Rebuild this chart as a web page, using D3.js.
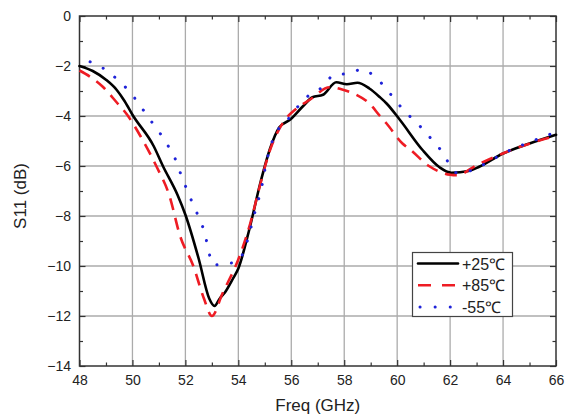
<!DOCTYPE html>
<html>
<head>
<meta charset="utf-8">
<style>
  body { margin: 0; background: #fff; }
  svg text { font-family: "Liberation Sans", Arial, sans-serif; fill: #222; }
</style>
</head>
<body>
<svg id="chart" width="588" height="418"></svg>
<script src="https://d3js.org/d3.v7.min.js"></script>
<script>

// +25 C (solid black)
var freq25 = [48.0, 48.5, 49.0, 49.4, 49.7, 50.0, 50.8, 51.15, 51.7, 52.0, 52.5, 52.9, 53.1, 53.3, 53.5, 53.8, 54.0, 54.4, 54.85, 55.2, 55.55, 55.95, 56.45, 56.8, 57.2, 57.7, 58.1, 58.5, 58.95, 59.35, 59.6, 60.1, 60.95, 61.6, 62.05, 62.7, 63.1, 64.0, 65.0, 66.0];
var s25    = [-2.0, -2.2, -2.55, -2.95, -3.4, -3.95, -5.2, -6.0, -7.15, -7.95, -9.7, -11.3, -11.6, -11.3, -11.05, -10.5, -10.1, -8.6, -6.6, -5.3, -4.45, -4.15, -3.6, -3.25, -3.15, -2.65, -2.73, -2.67, -2.9, -3.25, -3.5, -4.15, -5.35, -6.05, -6.27, -6.2, -6.03, -5.5, -5.1, -4.75];

// +85 C (red dashed)
var freq85 = [48.0, 48.4, 48.9, 49.4, 49.8, 50.3, 50.9, 51.4, 51.8, 52.3, 52.7, 53.0, 53.4, 54.05, 54.45, 54.8, 55.2, 55.7, 56.2, 56.7, 57.45, 57.95, 58.45, 58.95, 59.35, 59.6, 60.2, 60.5, 61.2, 62.0, 62.25, 63.0, 64.1, 65.4, 66.0];
var s85    = [-2.18, -2.43, -2.85, -3.45, -3.95, -4.8, -6.0, -7.2, -8.8, -10.0, -11.3, -12.0, -11.1, -9.6, -8.3, -6.85, -5.35, -4.25, -3.7, -3.35, -2.85, -2.95, -3.15, -3.5, -4.0, -4.3, -5.1, -5.35, -6.0, -6.35, -6.37, -5.97, -5.45, -4.97, -4.8];

// -55 C (blue dotted)
var freq55 = [48.4, 48.95, 49.45, 49.95, 50.2, 50.6, 51.35, 51.65, 51.85, 52.08, 52.3, 52.55, 52.75, 52.87, 53.05, 53.55, 53.9, 54.25, 54.45, 54.7, 54.85, 55.05, 55.3, 55.9, 56.3, 56.75, 57.2, 57.6, 58.15, 58.7, 59.15, 59.53, 59.97, 60.43, 60.9, 61.33, 61.8, 62.0, 62.25, 62.85, 63.5, 64.1, 65.0, 65.85];
var s55    = [-1.83, -2.13, -2.56, -3.1, -3.45, -4.05, -5.2, -5.8, -6.4, -7.0, -7.56, -8.16, -8.76, -9.36, -9.96, -9.9, -9.85, -9.3, -8.56, -7.56, -7.0, -5.9, -4.96, -4.1, -3.56, -3.1, -2.83, -2.36, -2.3, -2.13, -2.43, -2.83, -3.43, -3.96, -4.45, -4.97, -5.6, -6.0, -6.27, -6.16, -5.8, -5.45, -5.05, -4.7];

var legendLabels = ["+25\u2103", "+85\u2103", "-55\u2103"];
var xMajor = [48, 50, 52, 54, 56, 58, 60, 62, 64, 66];
var xMinor = [49, 51, 53, 55, 57, 59, 61, 63, 65];
var yMajor = [0, -2, -4, -6, -8, -10, -12, -14];
var yMinor = [-1, -3, -5, -7, -9, -11, -13];

var svg = d3.select("#chart");
var pL = 79.5, pR = 556, pT = 16, pB = 366;

var x = d3.scaleLinear().domain([48, 66]).range([pL, pR]);
var y = d3.scaleLinear().domain([0, -14]).range([pT, pB]);

// grid
var grid = svg.append("g").attr("stroke", "#ababab").attr("stroke-width", 1.3);
grid.selectAll("line.vx").data(xMajor.slice(1, -1)).enter().append("line")
    .attr("x1", function(d) { return x(d); }).attr("x2", function(d) { return x(d); })
    .attr("y1", pT).attr("y2", pB);
grid.selectAll("line.hy").data(yMajor.slice(1, -1)).enter().append("line")
    .attr("y1", function(d) { return y(d); }).attr("y2", function(d) { return y(d); })
    .attr("x1", pL).attr("x2", pR);

function styleAxis(g) {
  g.select(".domain").remove();
  g.selectAll(".tick line").attr("stroke", "#333").attr("stroke-width", 1.2);
  g.selectAll("text").attr("font-size", 14).attr("fill", "#333");
}

// major / minor ticks, inward on all four sides
svg.append("g").attr("transform", "translate(0," + pB + ")")
    .call(d3.axisBottom(x).tickValues(xMajor).tickSize(-6).tickPadding(9).tickFormat(d3.format("d")))
    .call(styleAxis);
svg.append("g").attr("transform", "translate(0," + pB + ")")
    .call(d3.axisBottom(x).tickValues(xMinor).tickSize(-3.5).tickFormat(""))
    .call(styleAxis);
svg.append("g").attr("transform", "translate(0," + pT + ")")
    .call(d3.axisTop(x).tickValues(xMajor).tickSize(-6).tickFormat(""))
    .call(styleAxis);
svg.append("g").attr("transform", "translate(0," + pT + ")")
    .call(d3.axisTop(x).tickValues(xMinor).tickSize(-3.5).tickFormat(""))
    .call(styleAxis);
svg.append("g").attr("transform", "translate(" + pL + ",0)")
    .call(d3.axisLeft(y).tickValues(yMajor).tickSize(-6).tickPadding(8.5).tickFormat(d3.format("d")))
    .call(styleAxis);
svg.append("g").attr("transform", "translate(" + pL + ",0)")
    .call(d3.axisLeft(y).tickValues(yMinor).tickSize(-3.5).tickFormat(""))
    .call(styleAxis);
svg.append("g").attr("transform", "translate(" + pR + ",0)")
    .call(d3.axisRight(y).tickValues(yMajor).tickSize(-6).tickFormat(""))
    .call(styleAxis);
svg.append("g").attr("transform", "translate(" + pR + ",0)")
    .call(d3.axisRight(y).tickValues(yMinor).tickSize(-3.5).tickFormat(""))
    .call(styleAxis);

svg.append("rect")
    .attr("x", pL).attr("y", pT)
    .attr("width", pR - pL).attr("height", pB - pT)
    .attr("fill", "none").attr("stroke", "#333").attr("stroke-width", 1.5);

// axis titles
svg.append("text")
    .attr("x", (pL + pR) / 2).attr("y", 411)
    .attr("text-anchor", "middle").attr("font-size", 17)
    .text("Freq (GHz)");
svg.append("text")
    .attr("transform", "translate(26," + 196 + ") rotate(-90)")
    .attr("text-anchor", "middle").attr("font-size", 17)
    .text("S11 (dB)");

// curves
var line = d3.line()
    .x(function(d) { return x(d[0]); })
    .y(function(d) { return y(d[1]); })
    .curve(d3.curveMonotoneX);

var series = [
  { f: freq25, s: s25, color: "#000000", width: 2.6, dash: null, cap: "round" },
  { f: freq85, s: s85, color: "#ee1c24", width: 2.6, dash: "12,8", cap: "butt" },
  { f: freq55, s: s55, color: "#1f23d8", width: 3, dash: "0.1,14.5", cap: "round" }
];

series.forEach(function(sr) {
  var pts = sr.f.map(function(f, i) { return [f, sr.s[i]]; });
  svg.append("path")
      .datum(pts)
      .attr("fill", "none")
      .attr("stroke", sr.color)
      .attr("stroke-width", sr.width)
      .attr("stroke-linejoin", "round")
      .attr("stroke-linecap", sr.cap)
      .attr("stroke-dasharray", sr.dash)
      .attr("d", line);
});

// legend
var lg = svg.append("g");
lg.append("rect")
    .attr("x", 412.5).attr("y", 252.5).attr("width", 100).attr("height", 64)
    .attr("fill", "#fff").attr("stroke", "#444").attr("stroke-width", 1.2);
series.forEach(function(sr, i) {
  var ly = 263.5 + i * 21.7;
  lg.append("line")
      .attr("x1", 418).attr("x2", 458).attr("y1", ly).attr("y2", ly)
      .attr("stroke", sr.color).attr("stroke-width", sr.width)
      .attr("stroke-linecap", sr.cap)
      .attr("stroke-dasharray", i == 1 ? "13,11" : (i == 2 ? "0.1,15" : null))
      .attr("transform", i == 2 ? "translate(2,0)" : null);
  lg.append("text")
      .attr("x", 462).attr("y", ly + 6)
      .attr("font-size", 16)
      .text(legendLabels[i]);
});

</script>
</body>
</html>
